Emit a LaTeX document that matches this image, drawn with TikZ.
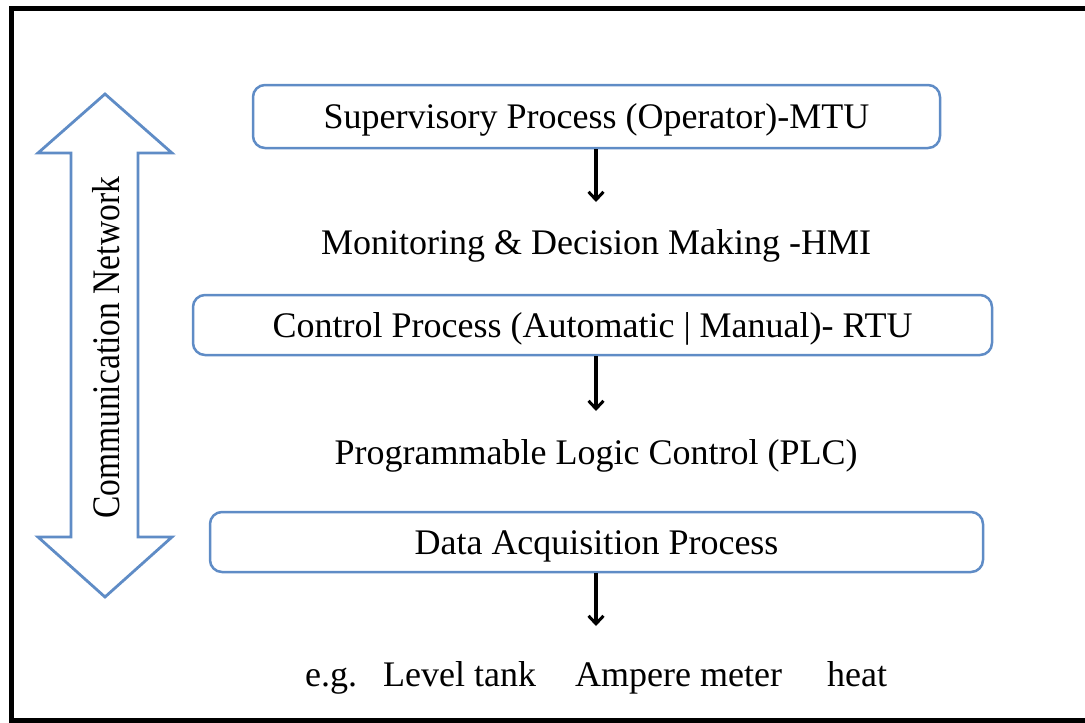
\documentclass[tikz,border=0pt]{standalone}
\usepackage{fontspec}
\setmainfont{Liberation Serif}
\usetikzlibrary{arrows.meta}
\definecolor{boxblue}{RGB}{95,140,198}
\begin{document}
\begin{tikzpicture}[x=1pt,y=-1pt,
  stagebox/.style={draw=boxblue, line width=2.5pt, rounded corners=12pt, inner sep=0pt,
    text height=24pt, text depth=0pt, font=\fontsize{36}{40}\selectfont},
  lbl/.style={font=\fontsize{36}{40}\selectfont, inner sep=0pt, anchor=base},
  flow/.style={line width=3.2pt, -{Straight Barb[length=8pt,width=15pt,line width=3pt]}}]
\useasboundingbox (0,0) rectangle (1085,723);
% outer frame
\draw[line width=5pt] (1085,8) -- (11,8) -- (11,720) -- (1085,720);
% communication double arrow
\draw[boxblue, line width=2.8pt, line join=miter, fill=white]
  (105,94) -- (172,153) -- (138,153) -- (138,537) -- (172,537) -- (105,597)
  -- (38,537) -- (71,537) -- (71,153) -- (38,153) -- cycle;
\node[rotate=90, inner sep=0pt, font=\fontsize{39}{43}\selectfont] (net) at (106.5,348)
  {\scalebox{0.86}[1]{Communication Network}};
% boxes
\node[stagebox, minimum width=687pt, minimum height=63pt] (b1) at (596.5,116.5)
  {Supervisory Process (Operator)-MTU};
\node[stagebox, minimum width=799pt, minimum height=60pt] (b2) at (592.5,325)
  {Control Process (Automatic | Manual)- RTU};
\node[stagebox, minimum width=773pt, minimum height=60pt] (b3) at (596.5,542)
  {Data Acquisition Process};
% plain labels
\node[lbl] (hmi) at (596,254) {Monitoring \& Decision Making -HMI};
\node[lbl] (plc) at (596,464) {Programmable Logic Control (PLC)};
\node[lbl, anchor=base west] (eg) at (305,686) {e.g.};
\node[lbl, anchor=base west] (lt) at (383,686) {Level tank};
\node[lbl, anchor=base west] (am) at (575,686) {Ampere meter};
\node[lbl, anchor=base west] (ht) at (827,686) {heat};
% connectors
\coordinate (c1) at (596,202);
\coordinate (c2) at (596,411);
\coordinate (c3) at (596,626);
\draw[flow] (b1.south -| c1) -- (c1);
\draw[flow] (b2.south -| c2) -- (c2);
\draw[flow] (b3.south -| c3) -- (c3);
\end{tikzpicture}
\end{document}
